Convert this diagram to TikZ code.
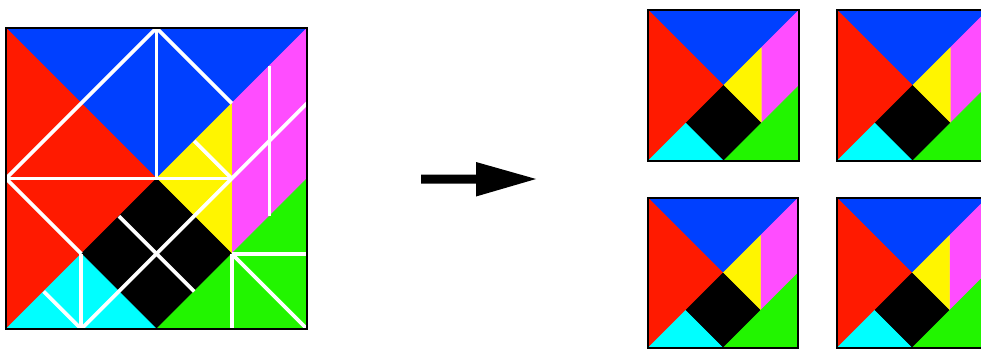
\documentclass[tikz,border=0pt]{standalone}
\definecolor{tgblue}{RGB}{0,64,255}
\definecolor{tgred}{RGB}{255,26,0}
\definecolor{tgmag}{RGB}{255,77,255}
\definecolor{tgyel}{RGB}{255,245,0}
\definecolor{tgcyan}{RGB}{0,255,255}
\definecolor{tggreen}{RGB}{34,245,0}
\newcommand\tgpieces{%
 \filldraw[piece=tgblue] (0,0)--(1,0)--(0.5,0.5)--cycle;
 \filldraw[piece=tgred] (0,0)--(0.5,0.5)--(0,1)--cycle;
 \filldraw[piece=tgmag] (1,0)--(1,0.5)--(0.75,0.75)--(0.75,0.25)--cycle;
 \filldraw[piece=tgyel] (0.75,0.25)--(0.75,0.75)--(0.5,0.5)--cycle;
 \filldraw[piece=black] (0.5,0.5)--(0.75,0.75)--(0.5,1)--(0.25,0.75)--cycle;
 \filldraw[piece=tgcyan] (0,1)--(0.25,0.75)--(0.5,1)--cycle;
 \filldraw[piece=tggreen] (1,0.5)--(1,1)--(0.5,1)--cycle;
 \draw[frame] (0,0) rectangle (1,1);
}
\tikzset{
 piece/.style={fill=#1, draw=#1, line width=0.4pt},
 frame/.style={draw=black, line width=2.6pt},
 cut/.style={draw=white, line width=3.6pt}
}
\begin{document}
\begin{tikzpicture}[x=1pt,y=-1pt]
\useasboundingbox (0,0) rectangle (981,350);
\clip (0,0) rectangle (981,350);
\fill[white] (0,0) rectangle (981,350);
% big square
\begin{scope}[shift={(6,28)}, scale=301]
 \filldraw[piece=tgblue] (0,0)--(1,0)--(0.5,0.5)--cycle;
 \filldraw[piece=tgred] (0,0)--(0.5,0.5)--(0,1)--cycle;
 \filldraw[piece=tgmag] (1,0)--(1,0.5)--(0.75,0.75)--(0.75,0.25)--cycle;
 \filldraw[piece=tgyel] (0.75,0.25)--(0.75,0.75)--(0.5,0.5)--cycle;
 \filldraw[piece=black] (0.5,0.5)--(0.75,0.75)--(0.5,1)--(0.25,0.75)--cycle;
 \filldraw[piece=tgcyan] (0,1)--(0.25,0.75)--(0.5,1)--cycle;
 \filldraw[piece=tggreen] (1,0.5)--(1,1)--(0.5,1)--cycle;
 \draw[cut] (0,0.5)--(0.5,0);
 \draw[cut] (0.5,0)--(0.5,0.5);
 \draw[cut] (0.5,0)--(0.75,0.25);
 \draw[cut] (0,0.5)--(0.75,0.5);
 \draw[cut] (0.625,0.375)--(0.75,0.5);
 \draw[cut] (0.875,0.125)--(0.875,0.625);
 \draw[cut] (1,0.25)--(0.25,1);
 \draw[cut] (0,0.5)--(0.25,0.75);
 \draw[cut] (0.375,0.625)--(0.625,0.875);
 \draw[cut] (0.25,0.75)--(0.25,1);
 \draw[cut] (0.125,0.875)--(0.25,1);
 \draw[cut] (0.75,0.75)--(1,0.75);
 \draw[cut] (0.75,0.75)--(0.75,1);
 \draw[cut] (0.75,0.75)--(1,1);
 \draw[frame] (0,0) rectangle (1,1);
\end{scope}
% arrow
\fill[black] (421,174.5)--(476,174.5)--(476,162)--(536,179)--(476,196.5)--(476,183.5)--(421,183.5)--cycle;
% small squares
\begin{scope}[shift={(648,10)}, scale=151] \tgpieces \end{scope}
\begin{scope}[shift={(837,10)}, scale=151] \tgpieces \end{scope}
\begin{scope}[shift={(648,198)}, scale=150] \tgpieces \end{scope}
\begin{scope}[shift={(837,198)}, scale=150] \tgpieces \end{scope}
\end{tikzpicture}
\end{document}
